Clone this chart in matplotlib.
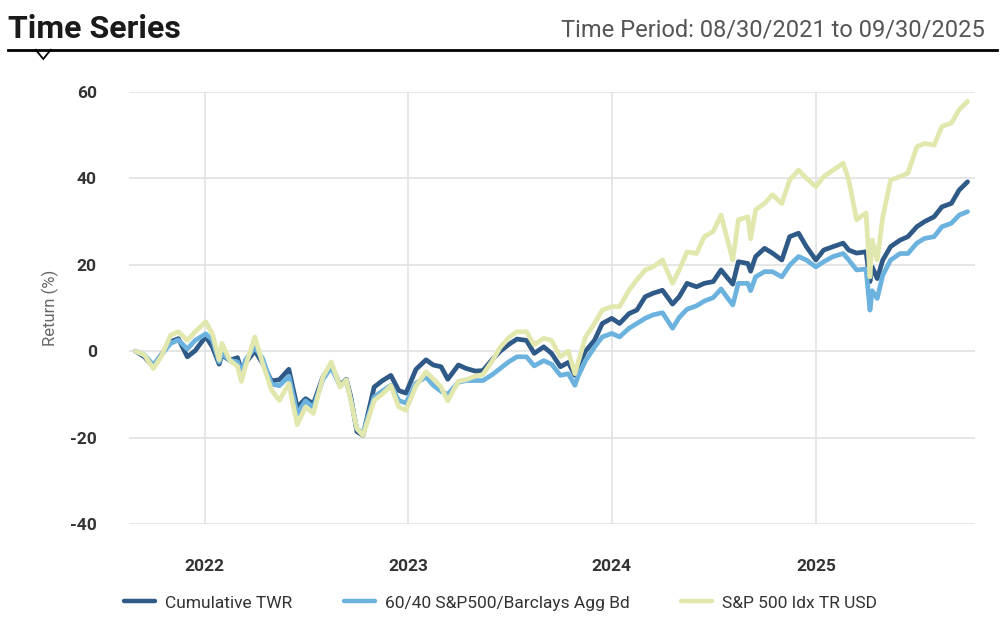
import numpy as np
import pandas as pd
import matplotlib
matplotlib.use("Agg")
import matplotlib.pyplot as plt
import matplotlib.dates as mdates
from matplotlib.lines import Line2D
from matplotlib.patches import Polygon

plt.rcParams["font.family"] = ["Roboto", "DejaVu Sans"]
plt.rcParams["axes.unicode_minus"] = False

# ---- data (% cumulative return) ----
dates = [
    "2021-08-30", "2021-09-15", "2021-10-01", "2021-10-15", "2021-11-01", "2021-11-15",
    "2021-12-01", "2021-12-15", "2022-01-03", "2022-01-15", "2022-01-27", "2022-02-01",
    "2022-02-15", "2022-03-01", "2022-03-08", "2022-03-15", "2022-04-01", "2022-04-15",
    "2022-05-01", "2022-05-15", "2022-06-01", "2022-06-16", "2022-07-01", "2022-07-15",
    "2022-08-01", "2022-08-16", "2022-09-01", "2022-09-12", "2022-09-20", "2022-10-01",
    "2022-10-12", "2022-11-01", "2022-11-15", "2022-12-01", "2022-12-15", "2022-12-28",
    "2023-01-15", "2023-02-02", "2023-02-15", "2023-03-01", "2023-03-13", "2023-04-01",
    "2023-04-15", "2023-05-01", "2023-05-15", "2023-06-01", "2023-06-15", "2023-07-01",
    "2023-07-15", "2023-08-01", "2023-08-15", "2023-09-01", "2023-09-15", "2023-10-01",
    "2023-10-15", "2023-10-27", "2023-11-01", "2023-11-15", "2023-12-01", "2023-12-15",
    "2024-01-01", "2024-01-15", "2024-02-01", "2024-02-15", "2024-03-01", "2024-03-15",
    "2024-04-01", "2024-04-19", "2024-05-01", "2024-05-15", "2024-06-01", "2024-06-15",
    "2024-07-01", "2024-07-15", "2024-07-25", "2024-08-05", "2024-08-15", "2024-09-01",
    "2024-09-06", "2024-09-15", "2024-10-01", "2024-10-15", "2024-11-01", "2024-11-15",
    "2024-12-01", "2024-12-15", "2025-01-01", "2025-01-15", "2025-02-01", "2025-02-19",
    "2025-03-01", "2025-03-15", "2025-04-01", "2025-04-08", "2025-04-12", "2025-04-21",
    "2025-05-01", "2025-05-15", "2025-06-01", "2025-06-15", "2025-07-01", "2025-07-15",
    "2025-08-01", "2025-08-15", "2025-09-01", "2025-09-15", "2025-09-30",
]

twr = [
    0.0, -1.3, -3.6, -0.9, 2.2, 2.9,
    -1.3, 0.1, 3.4, 1.0, -3.0, -0.9,
    -2.1, -1.5, -4.5, -2.8, 0.1, -2.8,
    -6.9, -6.6, -4.2, -13.0, -11.0, -12.2,
    -6.0, -3.2, -7.9, -6.5, -10.5, -18.6,
    -19.5, -8.3, -6.9, -5.6, -9.1, -9.7,
    -4.2, -2.0, -3.2, -3.6, -6.5, -3.2,
    -4.0, -4.6, -4.5, -1.9, 0.0, 1.6,
    2.8, 2.5, -0.5, 1.0, -0.5, -3.6,
    -2.6, -5.6, -3.6, 0.0, 2.5, 6.4,
    7.6, 6.4, 8.7, 9.5, 12.6, 13.4,
    14.1, 10.9, 12.6, 15.7, 14.9, 15.7,
    16.1, 18.8, 17.2, 15.5, 20.7, 20.3,
    18.5, 21.9, 23.8, 22.7, 21.1, 26.5,
    27.3, 24.2, 21.1, 23.4, 24.2, 25.0,
    23.4, 22.7, 23.0, 16.1, 19.5, 16.8,
    21.1, 24.2, 25.7, 26.5, 28.8, 30.0,
    31.1, 33.4, 34.2, 37.3, 39.2,
]

bal_6040 = [
    0.0, -0.9, -3.2, -0.9, 1.8, 2.6,
    0.5, 2.5, 4.0, 2.6, -2.5, -0.5,
    -2.1, -2.5, -5.0, -2.1, 0.9, -1.7,
    -7.6, -8.0, -5.8, -14.5, -11.5, -13.0,
    -6.5, -3.8, -8.0, -6.8, -11.0, -18.0,
    -19.0, -10.6, -9.3, -7.9, -11.4, -12.0,
    -7.4, -6.0, -7.9, -9.3, -10.0, -7.2,
    -6.8, -6.8, -6.8, -5.4, -4.0, -2.4,
    -1.3, -1.3, -3.4, -2.2, -3.0, -5.6,
    -5.2, -7.9, -6.0, -2.2, 0.9, 3.3,
    4.1, 3.3, 5.3, 6.4, 7.6, 8.4,
    8.9, 5.3, 7.8, 9.7, 10.5, 11.6,
    12.4, 14.4, 12.6, 10.7, 15.7, 15.7,
    14.0, 17.2, 18.4, 18.4, 17.2, 19.9,
    21.9, 21.1, 19.5, 20.7, 21.9, 22.6,
    21.1, 18.8, 19.0, 9.5, 14.0, 12.2,
    17.6, 21.1, 22.6, 22.6, 25.0, 26.1,
    26.5, 28.8, 29.6, 31.5, 32.3,
]

sp500 = [
    0.0, -0.9, -4.0, -1.3, 3.7, 4.5,
    2.5, 4.5, 6.8, 4.0, -2.0, 1.8,
    -2.1, -3.5, -7.0, -3.6, 3.3, -2.8,
    -9.0, -11.4, -7.5, -17.0, -12.9, -14.4,
    -6.0, -2.5, -8.3, -6.6, -11.4, -17.9,
    -19.5, -11.4, -10.0, -8.0, -12.9, -13.7,
    -8.0, -4.8, -6.4, -8.3, -11.5, -7.0,
    -6.6, -5.8, -5.4, -2.2, 0.9, 3.2,
    4.5, 4.5, 1.5, 3.0, 2.5, -1.3,
    0.0, -5.2, -2.9, 3.3, 6.4, 9.5,
    10.3, 10.3, 14.1, 16.5, 18.8, 19.5,
    21.1, 15.7, 18.8, 23.0, 22.6, 26.5,
    27.7, 31.5, 26.5, 21.1, 30.4, 31.1,
    26.0, 32.7, 34.2, 36.2, 34.2, 39.6,
    41.9, 40.0, 38.1, 40.4, 41.9, 43.5,
    39.6, 30.4, 32.0, 17.2, 25.7, 21.1,
    31.1, 39.6, 40.4, 41.2, 47.3, 48.1,
    47.7, 52.0, 52.8, 55.9, 57.8,
]

series_names = ["Cumulative TWR", "60/40 S&P500/Barclays Agg Bd", "S&P 500 Idx TR USD"]
series_colors = ["#2f5a87", "#6cb2df", "#e2e7ad"]
year_ticks = ["2022-01-01", "2023-01-01", "2024-01-01", "2025-01-01"]
y_ticks = [-40, -20, 0, 20, 40, 60]

x = pd.to_datetime(dates)

fig = plt.figure(figsize=(10.06, 6.34), dpi=100)
ax = fig.add_axes([0.128, 0.1735, 0.841, 0.6815])

for vals, name, col in zip([twr, bal_6040, sp500], series_names, series_colors):
    ax.plot(x, vals, color=col, lw=3.4, label=name, solid_joinstyle="round",
            solid_capstyle="round")

ax.set_ylim(-40, 60)
ax.set_xlim(pd.Timestamp("2021-08-18"), pd.Timestamp("2025-10-13"))
ax.set_yticks(y_ticks)
ax.set_xticks(pd.to_datetime(year_ticks))
ax.xaxis.set_major_formatter(mdates.DateFormatter("%Y"))
ax.grid(True, color="#e2e2e2", lw=1.2)
ax.set_axisbelow(True)
for s in ax.spines.values():
    s.set_visible(False)
ax.tick_params(length=0, labelsize=12.5, labelcolor="#333333")
ax.tick_params(axis="y", pad=23)
ax.tick_params(axis="x", pad=25)
for lbl in ax.get_xticklabels() + ax.get_yticklabels():
    lbl.set_fontweight("bold")
ax.set_ylabel("Return (%)", fontsize=12, color="#666666", labelpad=8)

# header
fig.text(0.008, 0.94, "Time Series", fontsize=23, fontweight="bold", color="#1a1a1a", va="baseline")
fig.text(0.979, 0.943, "Time Period: 08/30/2021 to 09/30/2025", fontsize=17, color="#555555",
         ha="right", va="baseline")
fig.add_artist(Line2D([0.008, 0.991], [0.921, 0.921], color="black", lw=2, transform=fig.transFigure))
notch = Polygon([[0.035, 0.9225], [0.043, 0.907], [0.051, 0.9225]], closed=False,
                facecolor="white", edgecolor="black", lw=1.3, transform=fig.transFigure)
fig.add_artist(notch)

leg = fig.legend(loc="center", bbox_to_anchor=(0.4975, 0.049), ncol=3, frameon=False,
                 fontsize=12.5, handlelength=1.8, columnspacing=2.95, handletextpad=0.58,
                 labelcolor="#333333")
for h in leg.get_lines():
    h.set_linewidth(3.2)

plt.savefig("out.png", dpi=100)
plt.close()
